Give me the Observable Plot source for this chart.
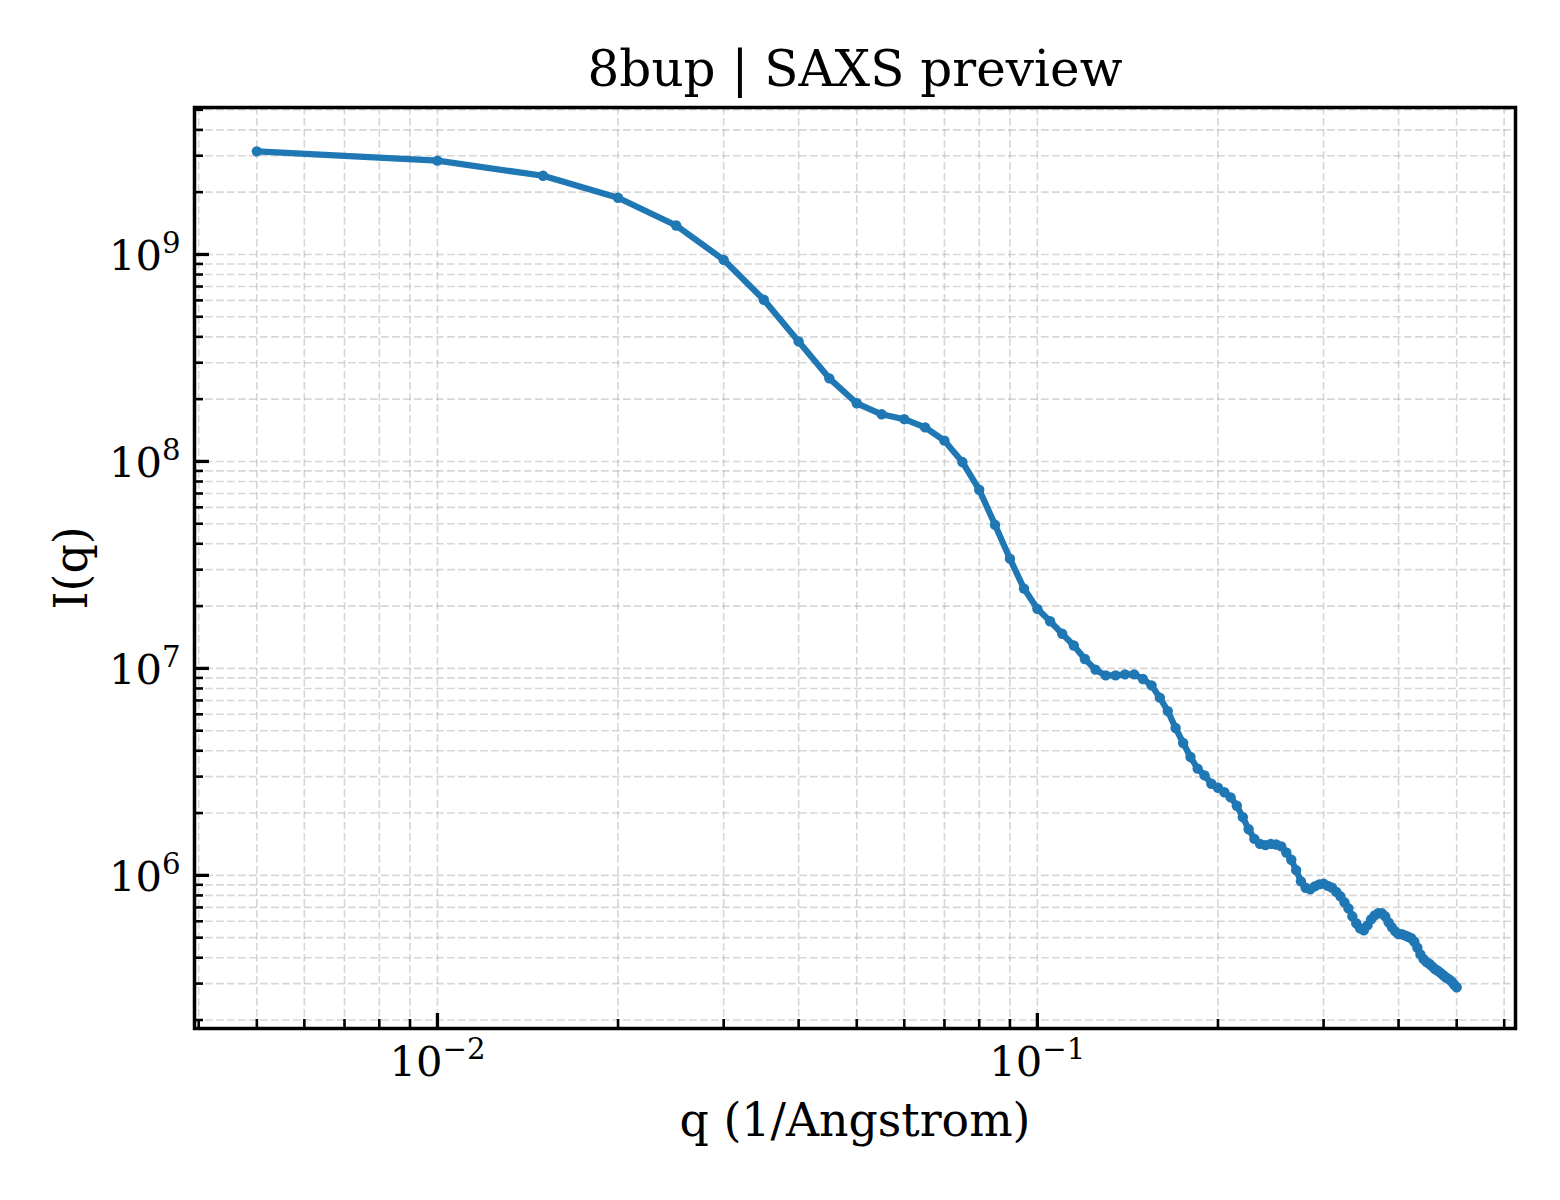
<!DOCTYPE html>
<html><head><meta charset="utf-8">
<script src="https://cdn.jsdelivr.net/npm/d3@7"></script>
<script src="https://cdn.jsdelivr.net/npm/@observablehq/plot@0.6"></script>
<style>body{margin:0;background:#fff;}</style>
</head><body><div id="chart"></div>
<script>
const q = [0.005,0.010,0.015,0.020,0.025,0.030,0.035,0.040,0.045,0.050,
  0.055,0.060,0.065,0.070,0.075,0.080,0.085,0.090,0.095,0.100,
  0.105,0.110,0.115,0.120,0.125,0.130,0.135,0.140,0.145,0.150,
  0.155,0.160,0.165,0.170,0.175,0.180,0.185,0.190,0.195,0.200,
  0.205,0.210,0.215,0.220,0.225,0.230,0.235,0.240,0.245,0.250,
  0.255,0.260,0.265,0.270,0.275,0.280,0.285,0.290,0.295,0.300,
  0.305,0.310,0.315,0.320,0.325,0.330,0.335,0.340,0.345,0.350,
  0.355,0.360,0.365,0.370,0.375,0.380,0.385,0.390,0.395,0.400,
  0.405,0.410,0.415,0.420,0.425,0.430,0.435,0.440,0.445,0.450,
  0.455,0.460,0.465,0.470,0.475,0.480,0.485,0.490,0.495,0.500];
const intensity = [3.15e9,2.84e9,2.40e9,1.88e9,1.38e9,9.42e8,6.04e8,3.80e8,2.52e8,1.91e8,
  1.69e8,1.60e8,1.46e8,1.26e8,9.93e7,7.30e7,4.94e7,3.39e7,2.43e7,1.94e7,
  1.69e7,1.47e7,1.29e7,1.11e7,9.86e6,9.25e6,9.25e6,9.36e6,9.36e6,8.88e6,
  8.28e6,7.22e6,6.22e6,5.15e6,4.36e6,3.73e6,3.28e6,3.04e6,2.77e6,2.65e6,
  2.52e6,2.38e6,2.17e6,1.91e6,1.67e6,1.50e6,1.42e6,1.40e6,1.42e6,1.41e6,
  1.38e6,1.29e6,1.19e6,1.06e6,9.36e5,8.71e5,8.56e5,8.85e5,9.05e5,9.12e5,
  8.90e5,8.71e5,8.32e5,7.92e5,7.41e5,6.93e5,6.34e5,5.87e5,5.55e5,5.42e5,
  5.73e5,6.13e5,6.41e5,6.56e5,6.56e5,6.34e5,5.93e5,5.61e5,5.36e5,5.21e5,
  5.19e5,5.13e5,5.05e5,4.97e5,4.78e5,4.47e5,4.15e5,3.95e5,3.82e5,3.74e5,
  3.63e5,3.53e5,3.46e5,3.38e5,3.29e5,3.21e5,3.15e5,3.08e5,2.97e5,2.88e5];

const xMajorTicks = [0.01, 0.1];
const xTickExponents = ["\u22122", "\u22121"];
const xMinorTicks = [0.004,0.005,0.006,0.007,0.008,0.009,
  0.02,0.03,0.04,0.05,0.06,0.07,0.08,0.09,
  0.2,0.3,0.4,0.5,0.6];
const yMajorTicks = [1e6, 1e7, 1e8, 1e9];
const yTickExponents = ["6", "7", "8", "9"];
const yMinorTicks = [2e5,3e5,4e5,5e5,6e5,7e5,8e5,9e5,
  2e6,3e6,4e6,5e6,6e6,7e6,8e6,9e6,
  2e7,3e7,4e7,5e7,6e7,7e7,8e7,9e7,
  2e8,3e8,4e8,5e8,6e8,7e8,8e8,9e8,
  2e9,3e9,4e9,5e9];

const title = "8bup | SAXS preview";
const xLabel = "q (1/Angstrom)";
const yLabel = "I(q)";

const data = q.map((d, i) => ({q: d, I: intensity[i]}));

const W = 1560, H = 1200, mL = 194, mR = 45, mT = 107, mB = 172;
const pw = W - mL - mR, ph = H - mT - mB;
const font = "DejaVu Serif";
const grid = {stroke: "#b0b0b0", strokeOpacity: 0.5, strokeWidth: 1.6, strokeDasharray: "7.7,3.3"};
const blue = "#1f77b4";
const SEP = "^";

const chart = Plot.plot({
  width: W, height: H,
  marginLeft: mL, marginRight: mR, marginTop: mT, marginBottom: mB,
  style: {fontFamily: font, background: "#fff", color: "black"},
  x: {type: "log", domain: [0.003936, 0.6266], axis: null},
  y: {type: "log", domain: [1.82e5, 5.13e9], axis: null},
  marks: [
    Plot.ruleX(xMinorTicks.concat(xMajorTicks), {x: d => d, ...grid}),
    Plot.ruleY(yMinorTicks.concat(yMajorTicks), {y: d => d, ...grid}),
    Plot.line(data, {x: "q", y: "I", stroke: blue, strokeWidth: 6.25}),
    Plot.dot(data, {x: "q", y: "I", r: 5.2, fill: blue, stroke: "none"}),
    Plot.ruleX(xMajorTicks, {x: d => d, insetTop: ph - 15, stroke: "black", strokeWidth: 3.3}),
    Plot.ruleX(xMinorTicks, {x: d => d, insetTop: ph - 9, stroke: "black", strokeWidth: 2.6}),
    Plot.ruleY(yMajorTicks, {y: d => d, insetRight: pw - 15, stroke: "black", strokeWidth: 3.3}),
    Plot.ruleY(yMinorTicks, {y: d => d, insetRight: pw - 9, stroke: "black", strokeWidth: 2.6}),
    Plot.frame({stroke: "black", strokeWidth: 3.5}),
    Plot.text(xMajorTicks, {x: d => d, frameAnchor: "bottom", text: (d, i) => "10" + SEP + xTickExponents[i],
      textAnchor: "middle", lineAnchor: "bottom", dy: 47, fontSize: 41.7, fill: "black"}),
    Plot.text(yMajorTicks, {y: d => d, frameAnchor: "left", text: (d, i) => "10" + SEP + yTickExponents[i],
      textAnchor: "end", lineAnchor: "bottom", dx: -14, dy: 16, fontSize: 41.7, fill: "black"}),
    Plot.text([title], {frameAnchor: "top", textAnchor: "middle", lineAnchor: "bottom", dy: -22, fontSize: 50, fill: "black"}),
    Plot.text([xLabel], {frameAnchor: "bottom", textAnchor: "middle", lineAnchor: "bottom", dy: 107, fontSize: 45.8, fill: "black"}),
    Plot.text([yLabel], {frameAnchor: "left", textAnchor: "middle", lineAnchor: "bottom", rotate: -90, dx: -108, fontSize: 45.8, fill: "black"})
  ]
});

// turn "10^n" labels into base + raised exponent (real text, tspans)
d3.select(chart).selectAll("text").each(function () {
  const t = this.textContent;
  if (t.includes(SEP)) {
    const [base, exp] = t.split(SEP);
    const sel = d3.select(this);
    sel.text(null);
    sel.append("tspan").text(base);
    sel.append("tspan").attr("font-size", 29.2).attr("dy", -17).text(exp);
  }
});
document.getElementById("chart").appendChild(chart);
</script>
</body></html>
